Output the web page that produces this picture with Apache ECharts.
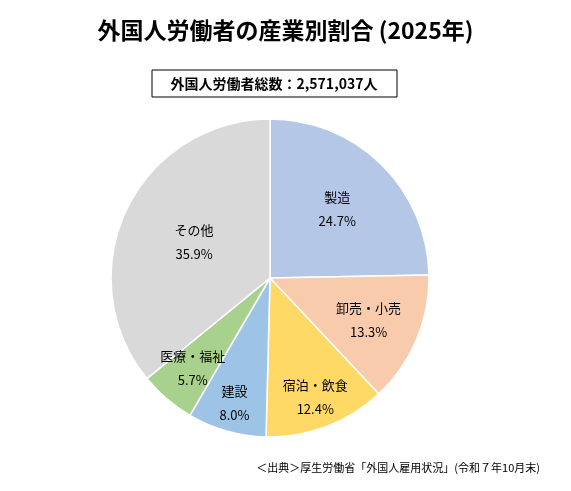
<!DOCTYPE html>
<html><head><meta charset="utf-8">
<script src="https://cdn.jsdelivr.net/npm/echarts@6/dist/echarts.min.js"></script>
<style>html,body{margin:0;padding:0;background:#fff}#c{width:571px;height:491px}</style>
</head><body><div id="c"></div>
<script>
const categories = ['製造','卸売・小売','宿泊・飲食','建設','医療・福祉','その他'];
const values = [24.7,13.3,12.4,8.0,5.7,35.9];
const colors = ['#b4c7e7','#f8cbad','#ffd966','#9dc3e6','#a9d18e','#d9d9d9'];
const labelRadius = [93,104,124,127,116,81];
const font = '"Noto Sans CJK JP", sans-serif';
const total = values.reduce((a,b)=>a+b,0);
let cum = 0;
const data = categories.map((c,i)=>{
  const mid = (cum + values[i]/2)/total*2*Math.PI; cum += values[i];
  const d = labelRadius[i] - 79.5;
  return {name:c,value:values[i],itemStyle:{color:colors[i]},
    label:{offset:[d*Math.sin(mid), -d*Math.cos(mid)]}};
});
const chart = echarts.init(document.getElementById('c'));
chart.setOption({
  animation:false,
  title:{text:'外国人労働者の産業別割合 (2025年)',left:'center',top:14,
    textStyle:{fontFamily:font,fontSize:23,fontWeight:'bold',color:'#000'}},
  graphic:[
    {type:'rect',shape:{x:152,y:70,width:245,height:27},style:{fill:'#fff',stroke:'#000',lineWidth:1}},
    {type:'text',x:274,y:83.5,style:{text:'外国人労働者総数：2,571,037人',font:'bold 14px '+font,fill:'#000',align:'center',verticalAlign:'middle'}},
    {type:'text',x:540,y:468,style:{text:'＜出典＞厚生労働省「外国人雇用状況」(令和７年10月末)',font:'11px '+font,fill:'#000',align:'right',verticalAlign:'middle'}}
  ],
  series:[{
    type:'pie',center:[270,278],radius:[0,159],startAngle:90,clockwise:true,
    avoidLabelOverlap:false,
    labelLayout:{hideOverlap:false},
    itemStyle:{borderColor:'#fff',borderWidth:1.5},
    label:{position:'inner',fontFamily:font,fontSize:13,color:'#000',lineHeight:24,
      formatter:p=>p.name+'\n'+p.value.toFixed(1)+'%'},
    labelLine:{show:false},
    data:data
  }]
});
</script></body></html>
